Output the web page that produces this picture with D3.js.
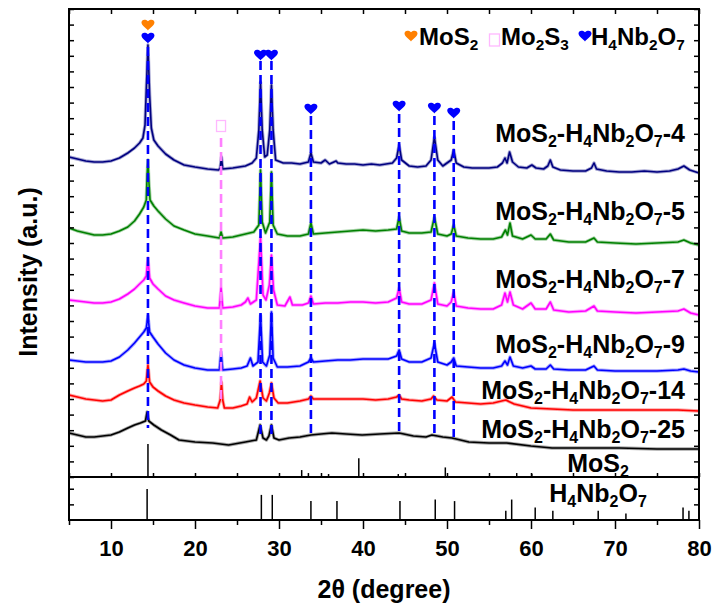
<!DOCTYPE html>
<html>
<head>
<meta charset="utf-8">
<script src="https://cdn.jsdelivr.net/npm/d3@7"></script>
<style>
  body { margin: 0; background: #fff; }
  text { font-family: "Liberation Sans", Arial, sans-serif; font-weight: bold; fill: #000; }
</style>
</head>
<body>
<svg id="chart" width="712" height="609"></svg>
<script>
// ---- XRD patterns: [2θ (degree), intensity (a.u.)] ----
const pattern4 = [[5.0,320],[6.0,318],[7.0,316],[8.0,315],[9.0,315],[10.0,316],[11.0,319],[12.0,324],[12.8,329],[13.4,334],[13.8,339],[14.05,352],[14.2,387],[14.4,432],[14.6,382],[14.8,349],[15.1,337],[15.6,331],[16.5,323],[17.5,317],[18.7,312],[20.0,310],[21.5,308],[22.8,307],[23.0,309],[23.15,320],[23.3,308],[24.5,309],[26.0,311],[26.8,314],[27.3,319],[27.6,347],[27.8,395],[28.0,347],[28.3,320],[28.6,322],[28.9,347],[29.1,392],[29.3,347],[29.6,317],[30.5,314],[31.5,314],[32.5,313],[33.5,315],[33.8,324],[34.1,315],[35.0,314],[35.5,317],[36.0,313],[36.8,316],[37.0,314],[38.0,313],[39.0,313],[40.0,312],[41.0,313],[42.0,312],[43.5,314],[44.0,319],[44.3,332],[44.6,317],[45.5,311],[46.5,310],[47.5,311],[48.1,317],[48.5,340],[48.9,317],[49.5,311],[50.5,317],[50.8,327],[51.1,314],[52.0,310],[53.0,309],[54.0,309],[55.0,309],[56.0,310],[56.6,314],[56.9,319],[57.15,314],[57.45,325],[57.8,315],[58.5,310],[59.5,309],[60.1,312],[60.6,309],[61.5,308],[62.0,311],[62.3,317],[62.6,310],[63.5,307],[65.0,306],[66.5,306],[67.2,309],[67.5,314],[67.8,308],[69.0,306],[70.5,305],[72.0,305],[73.5,306],[75.0,305],[76.5,306],[77.5,308],[78.2,311],[78.9,307],[80.0,304]];

const pattern5 = [[5.0,249],[6.0,246],[7.0,244],[8.0,242],[9.0,242],[10.0,243],[11.0,246],[12.0,250],[12.8,256],[13.4,263],[13.9,270],[14.2,277],[14.3,302],[14.4,317],[14.5,297],[14.65,277],[15.1,271],[15.6,266],[16.5,258],[17.5,251],[18.7,247],[20.0,243],[21.5,241],[22.9,239],[23.1,245],[23.3,239],[24.5,240],[26.0,243],[27.0,245],[27.6,252],[27.8,307],[28.0,255],[28.4,244],[28.9,255],[29.1,305],[29.3,252],[29.8,243],[31.0,241],[32.5,241],[33.5,243],[33.8,254],[34.1,243],[35.5,244],[37.0,245],[38.5,246],[40.0,247],[41.5,246],[43.0,247],[44.0,248],[44.3,260],[44.6,246],[45.5,244],[47.0,244],[48.1,245],[48.5,260],[48.9,243],[50.0,241],[50.5,243],[50.8,252],[51.1,241],[52.5,239],[54.0,238],[55.5,238],[56.5,240],[56.95,247],[57.2,242],[57.5,254],[57.8,241],[59.0,238],[60.0,242],[60.5,238],[61.8,238],[62.3,243],[62.7,237],[64.5,235],[66.5,235],[67.5,239],[67.9,235],[70.0,234],[72.5,233],[75.0,234],[77.5,235],[78.2,237],[79.0,234],[80.0,232]];

const pattern7 = [[5.0,177],[6.0,176],[7.0,175],[8.0,174],[9.0,174],[10.0,175],[11.0,178],[12.0,183],[12.8,188],[13.4,193],[13.9,197],[14.2,201],[14.4,219],[14.6,199],[15.0,193],[15.6,188],[16.5,181],[17.5,177],[18.7,174],[20.0,171],[21.5,169],[22.9,169],[23.1,189],[23.3,169],[24.5,170],[25.5,172],[26.0,175],[26.3,179],[26.6,173],[27.3,177],[27.8,240],[28.1,182],[28.45,177],[28.85,192],[29.1,222],[29.35,187],[29.8,172],[30.7,171],[31.3,180],[31.6,172],[32.8,172],[33.5,174],[33.8,181],[34.1,173],[35.5,174],[37.0,174],[38.5,175],[40.0,175],[41.5,174],[43.0,175],[44.0,179],[44.3,189],[44.6,175],[45.5,173],[47.0,173],[48.1,177],[48.5,194],[48.9,173],[50.0,171],[50.5,175],[50.8,185],[51.1,171],[52.5,169],[54.0,168],[55.5,168],[56.5,172],[56.9,184],[57.2,175],[57.5,185],[57.9,172],[59.0,168],[60.0,174],[60.5,168],[61.8,168],[62.3,175],[62.7,167],[64.5,165],[66.5,166],[67.5,171],[67.9,166],[70.0,165],[72.5,164],[75.0,165],[77.5,166],[78.2,168],[79.0,164],[80.0,162]];

const pattern9 = [[5.0,117],[6.0,116],[7.0,115],[8.0,115],[9.0,115],[10.0,116],[11.0,120],[12.0,127],[12.8,134],[13.4,140],[13.9,145],[14.2,149],[14.4,161],[14.6,145],[15.0,140],[15.6,133],[16.5,124],[17.5,117],[18.7,112],[20.0,109],[21.5,107],[22.9,107],[23.1,125],[23.3,107],[24.5,108],[25.5,109],[26.2,111],[26.6,119],[26.9,111],[27.5,115],[27.8,162],[28.05,115],[28.5,111],[28.9,122],[29.1,165],[29.3,119],[29.8,110],[31.0,110],[32.5,111],[33.5,115],[33.8,119],[34.1,115],[35.5,116],[37.0,117],[38.5,117],[40.0,118],[41.5,118],[43.0,118],[44.0,121],[44.3,127],[44.6,118],[45.5,115],[47.0,115],[48.1,119],[48.5,134],[48.9,115],[50.0,112],[50.5,115],[50.8,119],[51.1,111],[52.5,110],[54.0,109],[55.5,109],[56.5,111],[56.9,116],[57.2,112],[57.5,120],[57.9,111],[59.0,109],[60.0,111],[60.5,108],[61.8,108],[62.3,112],[62.7,108],[64.5,107],[66.5,107],[67.5,111],[67.9,107],[70.0,106],[72.5,106],[75.0,106],[77.5,107],[78.2,108],[79.0,106],[80.0,105]];

const pattern14 = [[5.0,82],[6.0,80],[7.0,78],[8.0,77],[9.0,76],[10.0,77],[11.0,82],[12.0,86],[12.8,89],[13.4,91],[13.9,93],[14.2,96],[14.4,112],[14.6,95],[15.0,90],[15.6,86],[16.5,81],[17.5,77],[18.7,74],[20.0,72],[21.5,70],[22.7,69],[23.0,77],[23.15,95],[23.3,77],[23.5,69],[24.5,69],[25.5,71],[26.2,73],[26.5,80],[26.8,75],[27.3,79],[27.75,96],[28.1,79],[28.5,76],[28.85,84],[29.1,94],[29.4,79],[29.9,74],[31.0,74],[32.5,76],[33.5,78],[33.8,81],[34.1,78],[35.5,78],[37.0,78],[38.5,78],[40.0,78],[41.5,77],[43.0,78],[44.0,80],[44.3,82],[44.6,78],[45.5,77],[47.0,76],[48.1,78],[48.4,81],[48.8,77],[50.0,76],[50.6,80],[51.0,75],[52.5,74],[54.0,73],[55.5,74],[57.0,77],[58.0,73],[60.0,69],[62.5,68],[65.0,67],[67.5,67],[70.0,67],[72.5,67],[75.0,67],[77.5,67],[80.0,66]];

const pattern25 = [[5.0,44],[6.0,42],[7.0,40],[8.0,40],[9.0,41],[10.0,42],[11.0,45],[12.0,49],[12.8,52],[13.5,54],[14.1,56],[14.3,65],[14.5,56],[15.1,52],[16.0,47],[17.1,42],[18.1,37],[20.0,35],[22.1,34],[24.0,32],[26.0,35],[27.3,37],[27.75,52],[28.1,39],[28.5,37],[28.8,41],[29.1,52],[29.4,39],[30.0,37],[31.2,39],[32.5,40],[33.8,42],[35.0,43],[36.3,44],[38.0,43],[39.9,42],[42.0,43],[44.3,44],[46.0,41],[47.5,40],[48.2,42],[49.5,40],[50.6,39],[52.6,35],[55.0,34],[57.1,34],[60.0,31],[62.5,29],[65.0,29],[70.5,29],[75.0,28],[80.0,28]];

const sampleNames = ["MoS2-H4Nb2O7-4","MoS2-H4Nb2O7-5","MoS2-H4Nb2O7-7","MoS2-H4Nb2O7-9","MoS2-H4Nb2O7-14","MoS2-H4Nb2O7-25"];
const samplePatterns = [pattern4, pattern5, pattern7, pattern9, pattern14, pattern25];
// intensity level on which each sample name sits
const sampleLabelLevels = [335, 257, 189, 124, 78, 39];

// ---- standard reference cards: [2θ, relative intensity] ----
const mos2Card = [[14.4,100],[32.7,21],[33.5,12],[35.9,9],[39.5,57],[44.2,9],[49.8,29],[58.3,12],[60.1,10]];
const h4nb2o7Card = [[14.3,100],[27.9,81],[29.2,81],[33.8,61],[36.9,61],[44.4,61],[48.6,66],[50.9,61],[57.0,30],[57.7,66],[60.5,40],[62.6,30],[68.0,30],[71.3,21],[78.1,40],[78.8,30]];

// ---- phase indexing: peak position, marker level, dashed guide from/to ----
const h4nb2o7Peaks = [14.4, 27.8, 29.1, 33.8, 44.3, 48.5, 50.8];
const h4nb2o7MarkerLevels = [439, 422, 422, 368, 371, 369, 364];
const h4nb2o7GuideTops = [430, 416, 416, 361, 363, 361, 356];
const h4nb2o7GuideBottoms = [49, 42, 42, 39, 42, 42, 40];
const mos2Peaks = [14.4];
const mos2MarkerLevels = [452];
const mo2s3Peaks = [23.1];
const mo2s3MarkerLevels = [351];
const mo2s3GuideTops = [339];
const mo2s3GuideBottoms = [77];

const xTicksMajor = [10, 20, 30, 40, 50, 60, 70, 80];
const xTicksMinor = [5, 15, 25, 35, 45, 55, 65, 75];

// ---- styles ----
const sampleColors = ["#000080", "#008000", "#ff00ff", "#0000ff", "#ff0000", "#000000"];
const colH = "#0000ff", colMoS2 = "#ff8000", colMo2S3 = "#ff80ff", colMo2S3Box = "#ffb8ff";

const svg = d3.select("#chart");
const plotLeft = 69, plotRight = 699, plotTop = 9, plotSplit = 477, plotBottom = 520;

const x = d3.scaleLinear().domain([5, 80]).range([plotLeft, plotRight]);
const y = d3.scaleLinear().domain([0, 468]).range([plotSplit, plotTop]);
const yCardMoS2 = d3.scaleLinear().domain([0, 100]).range([plotSplit, plotSplit - 33]);
const yCardH = d3.scaleLinear().domain([0, 100]).range([plotBottom, plotBottom - 31]);
const yLowerAxis = d3.scaleLinear().domain([0, 2.75]).range([plotBottom, plotSplit]);

// text with chemical subscripts (a digit right after a letter)
function chemText(sel, str, size) {
  const shift = size * 0.2;
  let sub = false;
  for (let i = 0; i < str.length; i++) {
    const ch = str[i];
    const isSub = /\d/.test(ch) && i > 0 && /[A-Za-z]/.test(str[i - 1]);
    const t = sel.append("tspan").text(ch);
    if (isSub) { t.attr("font-size", size * 0.64); if (!sub) t.attr("dy", shift); sub = true; }
    else { if (sub) t.attr("dy", -shift); sub = false; }
  }
  return sel;
}

const heartPath = "M0,5.5 C-1.5,3.5 -6.5,0.6 -6.5,-2.4 C-6.5,-5.1 -3.2,-6.3 0,-3.8 C3.2,-6.3 6.5,-5.1 6.5,-2.4 C6.5,0.6 1.5,3.5 0,5.5Z";

// sample curves (a faint wide stroke under each trace gives the noisy band)
const line = d3.line().x(d => x(d[0])).y(d => y(d[1]));
const gCurves = svg.append("g");
samplePatterns.forEach((p, i) => {
  gCurves.append("path").datum(p).attr("d", line)
    .attr("fill", "none").attr("stroke", sampleColors[i]).attr("stroke-opacity", 0.35)
    .attr("stroke-width", 3.4).attr("stroke-linejoin", "round");
  gCurves.append("path").datum(p).attr("d", line)
    .attr("fill", "none").attr("stroke", sampleColors[i])
    .attr("stroke-width", 1.6).attr("stroke-linejoin", "round");
});

// reference sticks
svg.append("g").selectAll("line").data(mos2Card).join("line")
  .attr("x1", d => x(d[0])).attr("x2", d => x(d[0]))
  .attr("y1", yCardMoS2(0)).attr("y2", d => yCardMoS2(d[1]))
  .attr("stroke", "#000").attr("stroke-width", 1.5);
svg.append("g").selectAll("line").data(h4nb2o7Card).join("line")
  .attr("x1", d => x(d[0])).attr("x2", d => x(d[0]))
  .attr("y1", yCardH(0)).attr("y2", d => yCardH(d[1]))
  .attr("stroke", "#000").attr("stroke-width", 1.5);

// dashed guide lines
const gGuide = svg.append("g").attr("fill", "none").attr("stroke-width", 2.6).attr("stroke-dasharray", "9,5");
h4nb2o7Peaks.forEach((p, i) => {
  gGuide.append("line").attr("x1", x(p)).attr("x2", x(p))
    .attr("y1", y(h4nb2o7GuideTops[i])).attr("y2", y(h4nb2o7GuideBottoms[i])).attr("stroke", colH);
});
mo2s3Peaks.forEach((p, i) => {
  gGuide.append("line").attr("x1", x(p)).attr("x2", x(p))
    .attr("y1", y(mo2s3GuideTops[i])).attr("y2", y(mo2s3GuideBottoms[i])).attr("stroke", colMo2S3);
});

// phase markers
h4nb2o7Peaks.forEach((p, i) => {
  svg.append("path").attr("d", heartPath).attr("fill", colH)
    .attr("transform", `translate(${x(p)},${y(h4nb2o7MarkerLevels[i])})`);
});
mos2Peaks.forEach((p, i) => {
  svg.append("path").attr("d", heartPath).attr("fill", colMoS2)
    .attr("transform", `translate(${x(p)},${y(mos2MarkerLevels[i])})`);
});
mo2s3Peaks.forEach((p, i) => {
  svg.append("rect").attr("x", x(p) - 4.5).attr("y", y(mo2s3MarkerLevels[i]) - 5.5)
    .attr("width", 9).attr("height", 11).attr("fill", "none")
    .attr("stroke", colMo2S3Box).attr("stroke-width", 1.3);
});

// sample names
sampleNames.forEach((n, i) => {
  chemText(svg.append("text").attr("x", 685).attr("y", y(sampleLabelLevels[i]))
    .attr("text-anchor", "end").attr("font-size", 25), n, 25);
});
chemText(svg.append("text").attr("x", 598).attr("y", 472).attr("text-anchor", "middle").attr("font-size", 25), "MoS2", 25);
chemText(svg.append("text").attr("x", 598).attr("y", 502).attr("text-anchor", "middle").attr("font-size", 25), "H4Nb2O7", 25);

// legend
const lg = svg.append("g");
lg.append("path").attr("d", heartPath).attr("fill", colMoS2).attr("transform", "translate(411,36)");
chemText(lg.append("text").attr("x", 419).attr("y", 45).attr("font-size", 24), "MoS2", 24);
lg.append("rect").attr("x", 489.5).attr("y", 34).attr("width", 10).attr("height", 12)
  .attr("fill", "none").attr("stroke", colMo2S3Box).attr("stroke-width", 1.3);
chemText(lg.append("text").attr("x", 501).attr("y", 45).attr("font-size", 24), "Mo2S3", 24);
lg.append("path").attr("d", heartPath).attr("fill", colH).attr("transform", "translate(585,36)");
chemText(lg.append("text").attr("x", 591).attr("y", 45).attr("font-size", 24), "H4Nb2O7", 24);

// axes
function styleAxis(g) { g.select(".domain").remove(); g.selectAll("line").attr("stroke", "#000").attr("stroke-width", 1.5); }

svg.append("g").attr("transform", `translate(0,${plotBottom})`)
  .call(d3.axisBottom(x).tickValues(xTicksMajor).tickSize(9).tickPadding(11).tickFormat(d3.format("d")))
  .call(styleAxis)
  .call(g => g.selectAll("text").attr("font-size", 22).attr("font-family", "Liberation Sans, Arial, sans-serif").attr("font-weight", "bold").attr("fill", "#000"));
svg.append("g").attr("transform", `translate(0,${plotBottom})`)
  .call(d3.axisBottom(x).tickValues(xTicksMinor).tickSize(5).tickFormat(""))
  .call(styleAxis);
svg.append("g").attr("transform", `translate(0,${plotTop})`)
  .call(d3.axisTop(x).tickValues(xTicksMajor.concat(xTicksMinor)).tickSize(-5).tickFormat(""))
  .call(styleAxis);
svg.append("g").attr("transform", `translate(0,${plotSplit})`)
  .call(d3.axisTop(x).tickValues(xTicksMajor.concat(xTicksMinor)).tickSize(4).tickFormat(""))
  .call(styleAxis);
const yTicks = d3.range(31).map(i => i * 15.6);
svg.append("g").attr("transform", `translate(${plotLeft},0)`)
  .call(d3.axisLeft(y).tickValues(yTicks).tickSize(-5).tickFormat("")).call(styleAxis);
svg.append("g").attr("transform", `translate(${plotRight},0)`)
  .call(d3.axisRight(y).tickValues(yTicks).tickSize(-5).tickFormat("")).call(styleAxis);
svg.append("g").attr("transform", `translate(${plotLeft},0)`)
  .call(d3.axisLeft(yLowerAxis).tickValues([1, 2]).tickSize(-5).tickFormat("")).call(styleAxis);
svg.append("g").attr("transform", `translate(${plotRight},0)`)
  .call(d3.axisRight(yLowerAxis).tickValues([1, 2]).tickSize(-5).tickFormat("")).call(styleAxis);

// frames
svg.append("rect").attr("x", plotLeft).attr("y", plotTop).attr("width", plotRight - plotLeft).attr("height", plotSplit - plotTop)
  .attr("fill", "none").attr("stroke", "#000").attr("stroke-width", 2);
svg.append("rect").attr("x", plotLeft).attr("y", plotSplit).attr("width", plotRight - plotLeft).attr("height", plotBottom - plotSplit)
  .attr("fill", "none").attr("stroke", "#000").attr("stroke-width", 2);

// axis titles
svg.append("text").attr("x", (plotLeft + plotRight) / 2).attr("y", 598).attr("text-anchor", "middle")
  .attr("font-size", 25).text("2θ (degree)");
svg.append("text").attr("transform", "translate(37,272) rotate(-90)").attr("text-anchor", "middle")
  .attr("font-size", 25).text("Intensity (a.u.)");
</script>
</body>
</html>
